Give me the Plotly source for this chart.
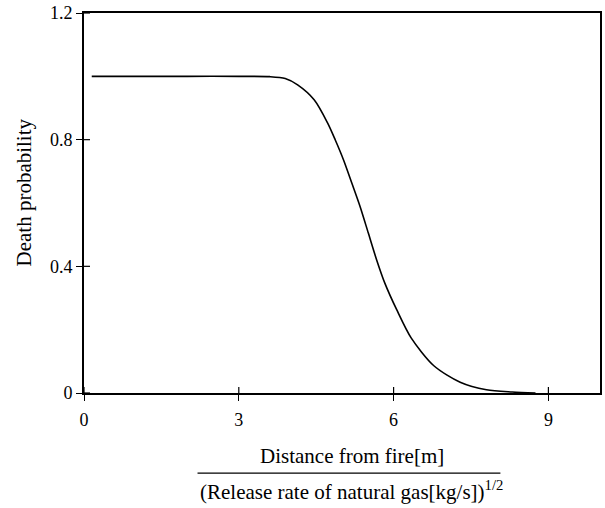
import plotly.graph_objects as go

# Data
distance = [0.15, 1.0, 2.0, 3.0, 3.6, 3.9, 4.14, 4.46, 4.72, 4.87, 5.03, 5.19, 5.35, 5.51,
            5.67, 5.83, 6.06, 6.34, 6.78, 7.29, 7.80, 8.30, 8.75]
death_prob = [1.0, 1.0, 1.0, 1.0, 0.999, 0.993, 0.973, 0.926, 0.853, 0.799, 0.736, 0.663, 0.589, 0.505,
              0.421, 0.347, 0.263, 0.174, 0.086, 0.034, 0.010, 0.003, 0.0]
x_ticks = [0, 3, 6, 9]
y_ticks = [0, 0.4, 0.8, 1.2]
y_tick_labels = ["0", "0.4", "0.8", "1.2"]
x_range = [0, 10]
y_range = [0, 1.2]

FONT = "Liberation Serif"
TICKLEN = 6

fig = go.Figure()
fig.add_trace(go.Scatter(x=distance, y=death_prob, mode="lines",
                         line=dict(color="black", width=1.6, shape="spline", smoothing=0.8),
                         showlegend=False, hoverinfo="skip"))

axis_common = dict(showgrid=False, zeroline=False, ticks="outside", ticklen=TICKLEN, tickwidth=1.2,
                   tickcolor="black", showline=True, linecolor="black", linewidth=1.6, mirror=True)
fig.update_layout(
    width=605, height=508,
    margin=dict(l=84, r=3, t=13, b=115),
    paper_bgcolor="white", plot_bgcolor="white",
    font=dict(family=FONT, size=18, color="black"),
    xaxis=dict(range=x_range, tickmode="array", tickvals=x_ticks, ticklabelstandoff=4,
               tickfont=dict(family=FONT, size=18, color="black"), **axis_common),
    yaxis=dict(range=y_range, tickmode="array", tickvals=y_ticks, ticktext=y_tick_labels,
               ticklabelstandoff=0, tickfont=dict(family=FONT, size=18, color="black"), **axis_common),
)

# Inner halves of the crossing tick marks
for tv in x_ticks:
    fig.add_shape(type="line", xref="x", yref="y", x0=tv, x1=tv, ysizemode="pixel", yanchor=y_range[0],
                  y0=0, y1=TICKLEN, line=dict(color="black", width=1.2))
for tv in y_ticks:
    fig.add_shape(type="line", xref="x", yref="y", y0=tv, y1=tv, xsizemode="pixel", xanchor=x_range[0],
                  x0=0, x1=TICKLEN, line=dict(color="black", width=1.2))

# Axis titles
fig.add_annotation(text="Death probability", textangle=-90, xref="paper", yref="paper",
                   x=-0.116, y=0.528, xanchor="center", yanchor="middle", showarrow=False,
                   font=dict(family=FONT, size=21, color="black"))
fig.add_annotation(text="Distance from fire[m]", xref="paper", yref="paper",
                   x=0.519, y=-0.166, xanchor="center", yanchor="middle", showarrow=False,
                   font=dict(family=FONT, size=21, color="black"))
fig.add_annotation(text="(Release rate of natural gas[kg/s])<sup>1/2</sup>", xref="paper", yref="paper",
                   x=0.519, y=-0.256, xanchor="center", yanchor="middle", showarrow=False,
                   font=dict(family=FONT, size=21, color="black"))
fig.add_shape(type="line", xref="paper", yref="paper", x0=0.22, x1=0.807, y0=-0.211, y1=-0.211,
              line=dict(color="black", width=1.3))

fig.write_html("out.html")
